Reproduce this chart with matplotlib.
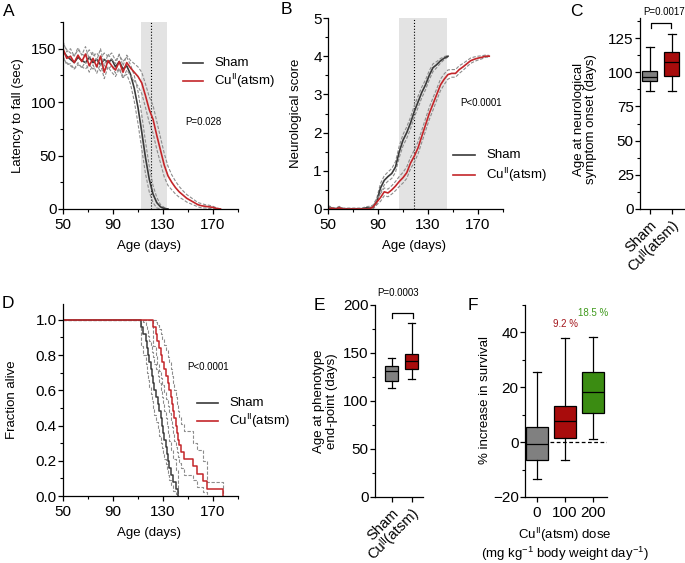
import numpy as np
import matplotlib
matplotlib.use("Agg")
import matplotlib.pyplot as plt
from matplotlib.lines import Line2D

plt.rcParams['font.family'] = ['Liberation Sans', 'DejaVu Sans']
plt.rcParams['mathtext.fontset'] = 'custom'
plt.rcParams['mathtext.rm'] = 'Liberation Sans'
plt.rcParams['mathtext.it'] = 'Liberation Sans:italic'
plt.rcParams['font.size'] = 9.5
plt.rcParams['axes.linewidth'] = 0.9

CU = 'Cu$^{\\mathrm{II}}$(atsm)'
CU_PLAIN = 'Cu\u1d35\u1d35(atsm)'   # superscript II as modifier letters (for rotated labels)

# ---- A: latency to fall (rotarod) ----
sham_a_days = list(range(50, 135, 3))
sham_a = [148, 143, 140, 137, 142, 139, 137, 142, 137, 140,
          135, 140, 137, 140, 133, 138, 131, 134, 126, 113,
          95, 72, 48, 28, 14, 6, 2, 0.5, 0]
sham_a_sem = [7, 6, 6, 6, 7, 6, 6, 7, 6, 6,
              6, 6, 6, 6, 6, 6, 7, 8, 9, 12,
              15, 16, 15, 12, 8, 5, 2, 1, 0]
cu_a_days = list(range(50, 177, 3))
cu_a = [150, 141, 143, 137, 144, 138, 145, 134, 141, 133,
        143, 128, 139, 134, 130, 138, 128, 137, 132, 128,
        124, 118, 106, 93, 84, 69, 55, 41, 31, 25,
        20, 16, 13, 10, 8, 6, 4, 3, 2.5, 2,
        1.5, 0.5, 0]
cu_a_sem = [7, 6, 7, 6, 7, 6, 7, 6, 6, 6,
            7, 6, 6, 6, 6, 7, 6, 7, 7, 8,
            9, 10, 11, 12, 13, 13, 12, 11, 9, 7,
            6, 5, 4, 3.5, 3, 2.5, 2, 2, 1.5, 1.5,
            1, 0.5, 0]

# ---- B: neurological score ----
sham_b_days = list(range(50, 147, 3))
sham_b = [0.05, 0.02, 0, 0.04, 0, 0, 0, 0, 0, 0,
          0.03, 0.03, 0.05, 0.2, 0.55, 0.75, 0.85, 0.93, 1.1, 1.5,
          1.8, 2.0, 2.25, 2.55, 2.8, 3.05, 3.25, 3.5, 3.7, 3.78,
          3.88, 3.95, 4.0]
sham_b_sem = [0.04, 0.03, 0.02, 0.03, 0.02, 0.02, 0.02, 0.02, 0.02, 0.02,
              0.03, 0.04, 0.05, 0.08, 0.12, 0.12, 0.12, 0.13, 0.14, 0.15,
              0.15, 0.15, 0.15, 0.15, 0.15, 0.14, 0.13, 0.12, 0.1, 0.08,
              0.06, 0.04, 0.02]
cu_b_days = list(range(50, 180, 3))
cu_b = [0, 0.02, 0, 0.03, 0, 0, 0, 0, 0, 0,
        0, 0, 0.05, 0.18, 0.3, 0.45, 0.42, 0.5, 0.6, 0.72,
        0.82, 0.95, 1.2, 1.38, 1.6, 1.9, 2.2, 2.5, 2.75, 3.0,
        3.25, 3.4, 3.52, 3.55, 3.55, 3.65, 3.72, 3.8, 3.88, 3.92,
        3.95, 3.97, 4.0, 4.0]
cu_b_sem = [0.02, 0.02, 0.02, 0.02, 0.02, 0.02, 0.02, 0.02, 0.02, 0.02,
            0.02, 0.02, 0.04, 0.07, 0.1, 0.1, 0.1, 0.11, 0.12, 0.13,
            0.14, 0.15, 0.15, 0.16, 0.16, 0.16, 0.16, 0.16, 0.16, 0.15,
            0.15, 0.14, 0.12, 0.1, 0.1, 0.1, 0.09, 0.08, 0.07, 0.06,
            0.05, 0.04, 0.03, 0.02]

# ---- D: survival (Kaplan-Meier) ----
sham_km_t = [50, 112, 114, 116, 117, 118, 119, 120, 121, 122, 123, 124, 126,
             127, 128, 129, 130, 131, 132, 133, 134, 135, 136, 138, 140, 142]
sham_km = [1.0, 0.96, 0.92, 0.88, 0.84, 0.80, 0.76, 0.72, 0.68, 0.64, 0.60, 0.56, 0.52,
           0.48, 0.44, 0.40, 0.36, 0.32, 0.28, 0.24, 0.20, 0.16, 0.12, 0.08, 0.04, 0.0]
sham_km_hi = [1.0, 1.0, 0.99, 0.97, 0.94, 0.91, 0.88, 0.85, 0.82, 0.79, 0.75, 0.72, 0.68,
              0.64, 0.60, 0.56, 0.52, 0.48, 0.44, 0.40, 0.35, 0.31, 0.26, 0.21, 0.15, 0.0]
sham_km_lo = [1.0, 0.85, 0.80, 0.75, 0.70, 0.66, 0.62, 0.58, 0.54, 0.50, 0.46, 0.42, 0.38,
              0.34, 0.30, 0.27, 0.24, 0.21, 0.18, 0.15, 0.12, 0.09, 0.06, 0.03, 0.01, 0.0]
cu_km_t = [50, 122, 124, 125, 127, 128, 129, 131, 132, 134, 135, 136, 137,
           138, 139, 140, 141, 142, 143, 144, 147, 154, 157, 162, 165, 178]
cu_km = [1.0, 0.96, 0.92, 0.88, 0.84, 0.80, 0.76, 0.72, 0.68, 0.64, 0.60, 0.56, 0.52,
         0.48, 0.44, 0.40, 0.36, 0.32, 0.29, 0.25, 0.21, 0.17, 0.125, 0.083, 0.042, 0.0]
cu_km_hi = [1.0, 1.0, 0.99, 0.97, 0.95, 0.92, 0.89, 0.86, 0.83, 0.79, 0.76, 0.72, 0.68,
            0.64, 0.60, 0.56, 0.52, 0.48, 0.45, 0.41, 0.37, 0.30, 0.26, 0.20, 0.08, 0.0]
cu_km_lo = [1.0, 0.85, 0.80, 0.75, 0.71, 0.67, 0.63, 0.59, 0.55, 0.51, 0.47, 0.43, 0.39,
            0.35, 0.31, 0.28, 0.25, 0.22, 0.19, 0.16, 0.12, 0.09, 0.05, 0.02, 0.0, 0.0]

# ---- C / E / F: box plots (median, quartiles, whisker ends) ----
groups = ['Sham', CU_PLAIN]
c_med = [96.5, 107.5]; c_q1 = [93.3, 97]; c_q3 = [100.6, 114.5]
c_lo = [86.5, 86.5]; c_hi = [118.4, 128]
e_med = [131, 142]; e_q1 = [121, 133]; e_q3 = [136, 149]
e_lo = [114, 123]; e_hi = [145, 181.5]
doses = ['0', '100', '200']
f_med = [-0.6, 7.6, 18.4]; f_q1 = [-6.4, 1.5, 10.7]; f_q3 = [5.7, 13.3, 25.5]
f_lo = [-13.3, -6.4, 1.2]; f_hi = [25.7, 37.8, 38.2]
f_means = ['9.2 %', '18.5 %']

SHAM_LINE = '#3a3a3a'
CU_LINE = '#c3262a'
BAND = '#8c8c8c'
SHADE = '#e3e3e3'
GREY_BOX = '#808080'
RED_BOX = '#a80c0c'
GREEN_BOX = '#3b8c12'
DASH = (0, (3, 1.5))

W, H = 685, 563
fig = plt.figure(figsize=(W / 100, H / 100), dpi=100)


def add_ax(x0, y0, x1, y1):
    # pixel box (left, top, right, bottom) -> figure axes
    return fig.add_axes([x0 / W, 1 - y1 / H, (x1 - x0) / W, (y1 - y0) / H])


def ftext(x, y, s, **kw):
    kw.setdefault('va', 'center')
    fig.text(x / W, 1 - y / H, s, **kw)


def style(ax):
    for s in ['top', 'right']:
        ax.spines[s].set_visible(False)
    ax.tick_params(which='major', direction='out', length=3.5, width=0.9, labelsize=11)
    ax.tick_params(which='minor', direction='out', length=2, width=0.8)
    ax.tick_params(axis='y', which='major', pad=1)
    ax.tick_params(axis='x', which='major', pad=3)


def legend(x, y0, y1, w=21):
    # hand-placed legend like the original (line + label for each group)
    for yy, col, lab in [(y0, SHAM_LINE, 'Sham'), (y1, CU_LINE, CU)]:
        fig.add_artist(Line2D([x / W, (x + w) / W], [1 - yy / H, 1 - yy / H],
                              color=col, lw=1.2, transform=fig.transFigure))
        ftext(x + w + 11, yy, lab, fontsize=9.5)


def bands(ax, d, m, s, color):
    m = np.array(m); s = np.array(s)
    ax.plot(d, m + s, ls=DASH, color=BAND, lw=0.8)
    ax.plot(d, m - s, ls=DASH, color=BAND, lw=0.8)
    ax.plot(d, m, color=color, lw=1.2)


def age_axis(ax):
    ax.set_xlim(50, 190)
    ax.set_xticks([50, 90, 130, 170])
    ax.set_xticks([70, 110, 150, 190], minor=True)
    ax.set_xlabel('Age (days)')


# ---------- A ----------
axA = add_ax(63, 22, 238, 209)
style(axA)
axA.axvspan(112.5, 133, color=SHADE, lw=0, zorder=0)
axA.axvline(120, color='black', ls=':', lw=0.8)
bands(axA, sham_a_days, sham_a, sham_a_sem, SHAM_LINE)
bands(axA, cu_a_days, cu_a, cu_a_sem, CU_LINE)
age_axis(axA)
axA.set_ylim(0, 175)
axA.set_yticks([0, 50, 100, 150])
axA.set_yticks([25, 75, 125, 175], minor=True)
axA.set_ylabel('Latency to fall (sec)')
axA.xaxis.set_label_coords(0.494, -0.165)
axA.yaxis.set_label_coords(-0.225, 0.5)
legend(183, 63, 81, w=20)
ftext(185, 122, 'P=0.028', fontsize=7)

# ---------- B ----------
axB = add_ax(328, 18, 503, 209)
style(axB)
axB.axvspan(107, 145, color=SHADE, lw=0, zorder=0)
axB.axvline(119, color='black', ls=':', lw=0.8)
bands(axB, sham_b_days, sham_b, sham_b_sem, SHAM_LINE)
bands(axB, cu_b_days, cu_b, cu_b_sem, CU_LINE)
age_axis(axB)
axB.set_ylim(0, 5)
axB.set_yticks(range(6))
axB.set_yticks(np.arange(0.5, 5, 1), minor=True)
axB.set_ylabel('Neurological score')
axB.xaxis.set_label_coords(0.494, -0.163)
axB.yaxis.set_label_coords(-0.147, 0.5)
legend(453, 155, 175, w=22)
ftext(460, 103, 'P<0.0001', fontsize=7)


def boxes(ax, med, q1, q3, lo, hi, colors, width, capw):
    stats = [dict(med=m, q1=a, q3=b, whislo=l, whishi=u, fliers=[])
             for m, a, b, l, u in zip(med, q1, q3, lo, hi)]
    pos = list(range(1, len(stats) + 1))
    bp = ax.bxp(stats, positions=pos, widths=width, patch_artist=True,
                showfliers=False, capwidths=capw, manage_ticks=False,
                boxprops=dict(edgecolor='black', lw=0.9),
                whiskerprops=dict(color='black', lw=0.9),
                capprops=dict(color='black', lw=0.9),
                medianprops=dict(color='black', lw=0.9))
    for patch, c in zip(bp['boxes'], colors):
        patch.set_facecolor(c)
    ax.set_xticks(pos)
    return pos


# ---------- C ----------
axC = add_ax(640, 17.5, 685, 209)
style(axC)
boxes(axC, c_med, c_q1, c_q3, c_lo, c_hi, [GREY_BOX, RED_BOX], 0.68, 0.38)
axC.set_xlim(0.55, 2.6)
axC.set_ylim(0, 140)
axC.set_yticks([0, 25, 50, 75, 100, 125])
axC.set_yticks(np.arange(12.5, 140, 25), minor=True)
axC.set_xticklabels(groups, rotation=45, ha='right', rotation_mode='anchor', fontsize=10.5)
axC.set_ylabel('Age at neurological\nsymptom onset (days)', linespacing=1.05)
axC.yaxis.set_label_coords(-0.95, 0.47)
axC.plot([1.05, 1.05, 1.95, 1.95], [132, 136, 136, 132], color='black', lw=0.9, clip_on=False)
ftext(664, 12, 'P=0.0017', fontsize=7, ha='center')

# ---------- D ----------
axD = add_ax(63, 304, 238, 496)
style(axD)
for t, lo, hi in [(sham_km_t, sham_km_lo, sham_km_hi), (cu_km_t, cu_km_lo, cu_km_hi)]:
    axD.step(t, lo, where='post', color=BAND, ls=DASH, lw=0.8)
    axD.step(t, hi, where='post', color=BAND, ls=DASH, lw=0.8)
axD.step(sham_km_t, sham_km, where='post', color=SHAM_LINE, lw=1.1)
axD.step(cu_km_t, cu_km, where='post', color=CU_LINE, lw=1.1)
age_axis(axD)
axD.set_ylim(0, 1.09)
axD.set_yticks(np.arange(0, 1.01, 0.2))
axD.set_yticks(np.arange(0.1, 1.1, 0.2), minor=True)
axD.set_yticklabels(['0.0', '0.2', '0.4', '0.6', '0.8', '1.0'])
axD.set_ylabel('Fraction alive')
axD.xaxis.set_label_coords(0.494, -0.16)
axD.yaxis.set_label_coords(-0.255, 0.5)
legend(197, 403, 421, w=21)
ftext(187, 367, 'P<0.0001', fontsize=7)

# ---------- E ----------
axE = add_ax(375, 305, 423, 497)
style(axE)
boxes(axE, e_med, e_q1, e_q3, e_lo, e_hi, [GREY_BOX, RED_BOX], 0.67, 0.35)
axE.set_xlim(0.17, 2.57)
axE.set_ylim(0, 200)
axE.set_yticks([0, 50, 100, 150, 200])
axE.set_yticks([25, 75, 125, 175], minor=True)
axE.set_xticklabels(groups, rotation=45, ha='right', rotation_mode='anchor', fontsize=10.5)
axE.set_ylabel('Age at phenotype\nend-point (days)', linespacing=1.05)
axE.yaxis.set_label_coords(-0.78, 0.5)
axE.plot([1.0, 1.0, 2.05, 2.05], [186.5, 191.7, 191.7, 186.5], color='black', lw=0.9, clip_on=False)
ftext(398, 293, 'P=0.0003', fontsize=7, ha='center')

# ---------- F ----------
axF = add_ax(525, 305, 607, 497)
style(axF)
pos = boxes(axF, f_med, f_q1, f_q3, f_lo, f_hi, [GREY_BOX, RED_BOX, GREEN_BOX], 0.77, 0.3)
axF.axhline(0, color='black', ls=(0, (3, 2)), lw=0.9, zorder=0.5)
axF.set_xlim(0.57, 3.5)
axF.set_ylim(-20, 50)
axF.set_yticks([-20, 0, 20, 40])
axF.set_yticks([-10, 10, 30, 50], minor=True)
axF.set_xticklabels(doses)
axF.set_ylabel('% increase in survival')
axF.yaxis.set_label_coords(-0.41, 0.505)
# two-line dose label, one text per line
ftext(565, 535, CU + ' dose', ha='center')
ftext(565, 554, '(mg kg$^{-1}$ body weight day$^{-1}$)', ha='center')
axF.text(pos[1], 43, f_means[0], color='#a3161c', fontsize=7, ha='center', va='center')
axF.text(pos[2], 47, f_means[1], color='#3f9a1c', fontsize=7, ha='center', va='center')

# panel letters
for lab, x, y in [('A', 9, 11), ('B', 286, 9), ('C', 576, 12),
                  ('D', 8, 304), ('E', 319, 305), ('F', 473, 305)]:
    ftext(x, y, lab, fontsize=12.5, ha='center')

fig.savefig('out.png', dpi=100)
